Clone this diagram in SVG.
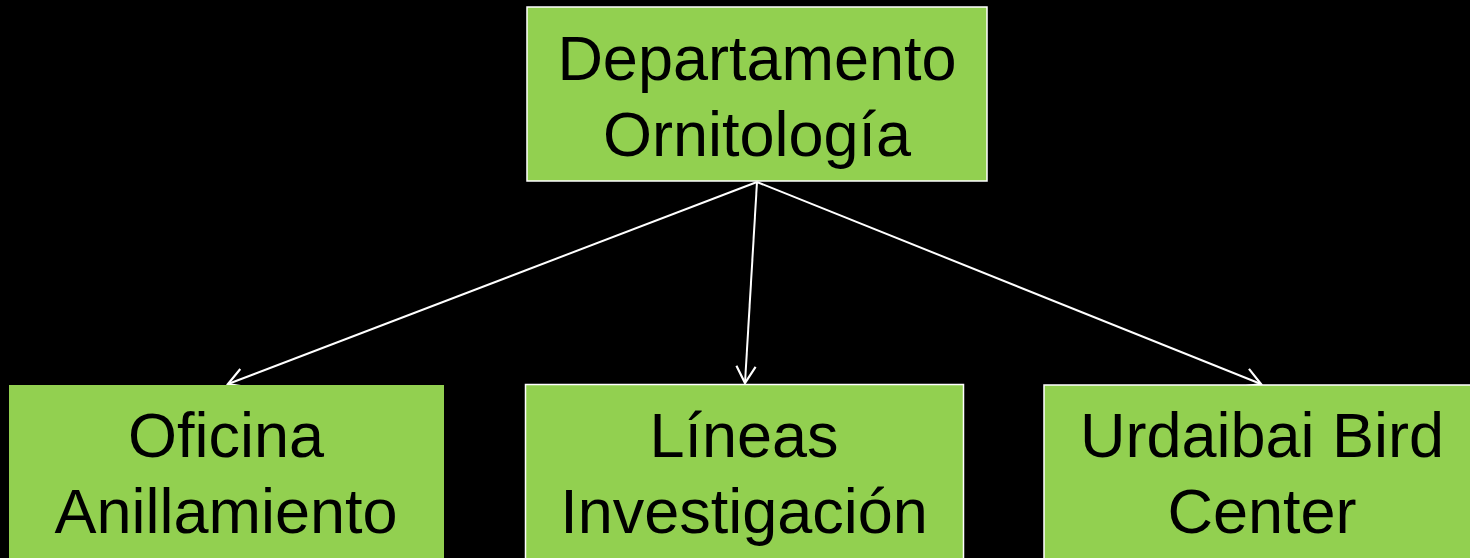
<svg xmlns="http://www.w3.org/2000/svg" width="1470" height="558" viewBox="0 0 1470 558">
<style>
.box{fill:#92d050;stroke:#ffffff;stroke-width:1.5}
.lbl{font-family:"Liberation Sans",Arial,sans-serif;font-size:63px;fill:#000000;text-anchor:middle}
.conn{stroke:#ffffff;stroke-width:2;fill:none;marker-end:url(#arr)}
</style>
<defs>
<marker id="arr" viewBox="0 0 20 20" refX="18" refY="10" markerWidth="24" markerHeight="24" markerUnits="userSpaceOnUse" orient="auto">
<path d="M4,2 L18,10 L4,18" fill="none" stroke="#ffffff" stroke-width="1.8"/>
</marker>
</defs>
<rect width="1470" height="558" fill="#000000"/>
<g id="connectors">
<line class="conn" x1="757" y1="182" x2="228" y2="384"/>
<line class="conn" x1="757" y1="182" x2="745" y2="383"/>
<line class="conn" x1="757" y1="182" x2="1261" y2="384"/>
</g>
<g id="node-departamento">
<rect class="box" x="527" y="7" width="460" height="174" stroke-width="2"/>
<text class="lbl" x="757" y="80">Departamento</text>
<text class="lbl" x="757" y="156">Ornitología</text>
</g>
<g id="node-oficina">
<rect x="9" y="385" width="435" height="180" fill="#92d050"/>
<text class="lbl" x="226" y="457">Oficina</text>
<text class="lbl" x="226" y="533">Anillamiento</text>
</g>
<g id="node-lineas">
<rect class="box" x="525.5" y="384.5" width="438" height="180"/>
<text class="lbl" x="744" y="457">Líneas</text>
<text class="lbl" x="744" y="533">Investigación</text>
</g>
<g id="node-urdaibai">
<rect class="box" x="1044" y="385" width="440" height="180"/>
<text class="lbl" x="1262" y="457">Urdaibai Bird</text>
<text class="lbl" x="1262" y="533">Center</text>
</g>
</svg>
